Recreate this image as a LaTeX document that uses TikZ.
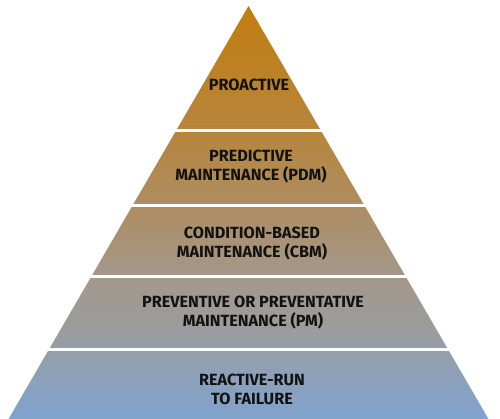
\documentclass[tikz,border=0pt]{standalone}
\usepackage{fontspec}
\setmainfont{Fira Sans}
\definecolor{txt}{RGB}{18,18,18}
\definecolor{c1}{RGB}{194,125,14}
\definecolor{c2}{RGB}{183,133,60}
\definecolor{c3}{RGB}{174,141,98}
\definecolor{c4}{RGB}{163,152,140}
\definecolor{c5}{RGB}{155,156,158}
\definecolor{c6}{RGB}{143,160,182}
\definecolor{c7}{RGB}{127,163,207}
\pgfdeclareverticalshading{pyrshade}{100bp}{color(0bp)=(c7); color(25bp)=(c7); color(30.9bp)=(c6); color(35.8bp)=(c5); color(41.8bp)=(c4); color(50.9bp)=(c3); color(60bp)=(c2); color(75bp)=(c1); color(100bp)=(c1)}
\tikzset{
  label/.style={font=\fontsize{16.2}{19}\selectfont\bfseries, text=txt, align=center, inner sep=0pt},
  gap/.style={draw=white, line width=3pt},
}
\begin{document}
\begin{tikzpicture}[x=1pt,y=-1pt]
\useasboundingbox (0,0) rectangle (500,419);
\coordinate (apex) at (248.5,6);
\coordinate (bl) at (8.5,419);
\coordinate (br) at (488.5,419);
\shade[shading=pyrshade] (apex) -- (br) -- (bl) -- cycle;
\foreach \y in {130.5,205.5,276.5,349.8}{
  \draw[gap] (0,\y) -- (500,\y);
}
\node[label] (proactive) at (249,85) {PROACTIVE};
\node[label] (pdm) at (251,167) {PREDICTIVE\\MAINTENANCE (PDM)};
\node[label] (cbm) at (252,244) {CONDITION-BASED\\MAINTENANCE (CBM)};
\node[label] (pm) at (253,313) {PREVENTIVE OR PREVENTATIVE\\MAINTENANCE (PM)};
\node[label] (rtf) at (252,389) {REACTIVE-RUN\\TO FAILURE};
\end{tikzpicture}
\end{document}
